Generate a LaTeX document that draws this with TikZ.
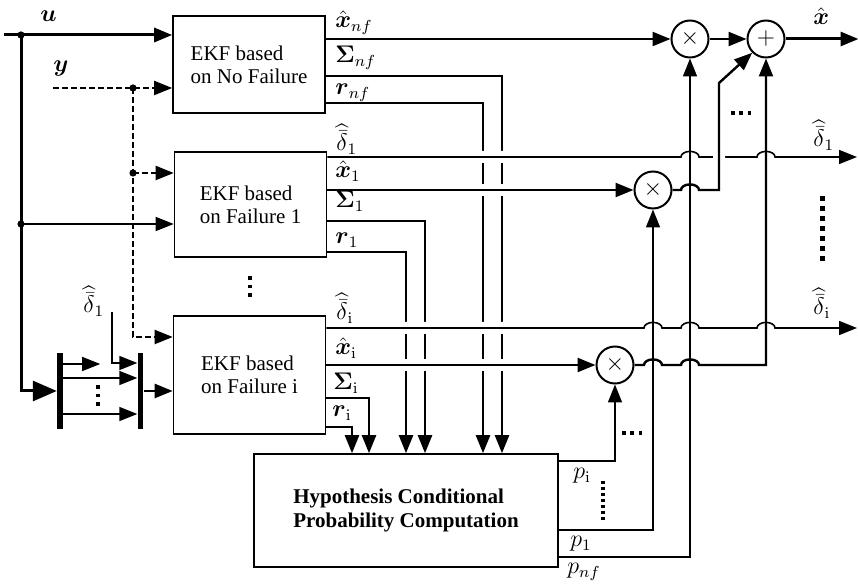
\documentclass[tikz,border=0pt]{standalone}
\usepackage{amsmath, amssymb}
\usepackage[no-math]{fontspec}
\setmainfont{Liberation Serif}
\usepackage{tikz}
\usetikzlibrary{
  arrows.meta,
  positioning,
  calc,
}
\newcommand{\deltahat}{\widehat{\bar{\delta}}}
\newcommand{\hopup}{arc[start angle=180, end angle=0, x radius=4.5pt, y radius=2.8pt]}

\begin{document}
\begin{tikzpicture}[x=0.5pt, y=-0.5pt,
  >={Triangle[length=9pt,width=7pt]},
  box/.style={draw, line width=0.8pt, minimum width=76pt, align=left,
              font=\fontsize{10.5}{11.5}\selectfont},
  mult/.style={draw, circle, line width=1pt, minimum size=18.5pt,
               inner sep=0pt, font=\large},
  bar/.style={fill, minimum width=2.8pt, minimum height=38pt, inner sep=0pt},
  thin/.style={line width=0.8pt},
  sig/.style={line width=1.2pt},
  main/.style={line width=1.5pt},
  dsh/.style={line width=1pt, dash pattern=on 3pt off 1.5pt},
  gap/.style={preaction={draw=white, line width=6pt, -,
              shorten <=12pt, shorten >=12pt}},
  lbl/.style={anchor=base west, inner sep=0pt, font=\large},
  dotrow/.style={line width=1.8pt, dash pattern=on 1.8pt off 2.4pt},
]
  \useasboundingbox (0,0) rectangle (858,587);

  % filters and probability block
  \node[box, minimum height=48.5pt] (nf) at (249,64.5) {EKF based\\on No Failure};
  \node[box, minimum height=52.5pt] (fone) at (250.5,204.5) {EKF based\\on Failure 1};
  \node[box, minimum height=59pt] (fi) at (249.5,375) {EKF based\\on Failure i};
  \node[box, minimum width=152pt, minimum height=56.5pt,
        font=\bfseries\fontsize{10.5}{12}\selectfont] (hcp) at (406,510.5)
    {Hypothesis Conditional\\Probability Computation};

  % multipliers and sum
  \node[mult] (mnf) at (690,39) {$\times$};
  \node[mult] (mone) at (653,190) {$\times$};
  \node[mult] (mi) at (615,365) {$\times$};
  \node[mult] (sum) at (766,39) {$+$};

  % switch bars
  \node[bar] (bara) at (60,391) {};
  \node[bar] (barb) at (140.5,391) {};

  % inputs
  \coordinate (uin) at (4,35);
  \coordinate (du) at (21,35);
  \coordinate (dua) at (21,224);
  \coordinate (yin) at (53,88);
  \coordinate (dy) at (133,88);
  \coordinate (dya) at (133,173);
  \coordinate (dlin) at (112,312);

  \draw[main,->] (uin) -- (uin -| nf.west);
  \draw[main,-{Triangle[length=12pt,width=10pt]}] (du) |- (bara.west);
  \draw[thin,->] (dua) -- (dua -| fone.west);
  \draw[dsh,->] (yin) -- (yin -| nf.west);
  \draw[dsh,->] (dya) -- (dya -| fone.west);
  \draw[dsh,->] (dy) |- (fi.west |- 0,337);
  \foreach \d in {du, dua, dy, dya}
    \fill (\d) circle[radius=1.8pt];

  \draw[thin,->] (bara.east |- 0,364) -- ++(37,0);
  \draw[thin,->] (bara.east |- 0,378) -- (barb.west |- 0,378);
  \draw[thin,->] (bara.east |- 0,414) -- (barb.west |- 0,414);
  \draw[thin,->] (dlin) |- (barb.west |- 0,363);
  \draw[sig,->] (barb.east) -- (barb.east -| fi.west);

  % covariances and residuals to the probability block
  \draw[sig,->] (nf.east |- 0,76) -| (502,0 |- hcp.north);
  \draw[sig,->] (nf.east |- 0,103) -| (483,0 |- hcp.north);
  \draw[sig,->] (fone.east |- 0,221) -| (425,0 |- hcp.north);
  \draw[sig,->] (fone.east |- 0,252) -| (406,0 |- hcp.north);
  \draw[sig,->] (fi.east |- 0,398) -| (369,0 |- hcp.north);
  \draw[sig,->] (fi.east |- 0,427) -| (352,0 |- hcp.north);

  % estimates crossing over
  \draw[thin,gap,->] (fone.east |- 0,157) -- (681,157) \hopup -- (757,157) \hopup -- (857,157);
  \draw[sig,gap,->] (fone.east |- mone.west) -- (mone.west);
  \draw[thin,gap,->] (fi.east |- 0,328) -- (644,328) \hopup -- (681,328) \hopup
    -- (757,328) \hopup -- (857,328);
  \draw[sig,gap,->] (fi.east |- mi.west) -- (mi.west);
  \draw[sig,gap,->] (mone.east) -- (681,190) \hopup -- (719,190) -- (719,83) -- (sum.225);

  \draw[sig,->] (mi.east) -- (644,365) \hopup -- (681,365) \hopup
    -- (sum.south |- mi.east) -- (sum.south);
  \draw[thin,->] (hcp.east |- 0,461) -| (mi.south);
  \draw[thin,->] (hcp.east |- 0,530) -| (mone.south);
  \draw[thin,->] (hcp.east |- 0,557) -| (mnf.south);
  \draw[sig,->] (mnf.west -| nf.east) -- (mnf.west);
  \draw[sig,->] (mnf.east) -- (sum.west);
  \draw[main,->] (sum.east) -- ++(73,0);

  % labels
  \node[lbl] (l-u) at (40,22) {$\boldsymbol{u}$};
  \node[lbl] (l-y) at (53,72) {$\boldsymbol{y}$};
  \node[lbl] (l-dsw) at (83,313) {$\deltahat_1$};
  \node[lbl] (l-xnf) at (335,28) {$\hat{\boldsymbol{x}}_{nf}$};
  \node[lbl] (l-snf) at (335,63) {$\boldsymbol{\Sigma}_{nf}$};
  \node[lbl] (l-rnf) at (335,95) {$\boldsymbol{r}_{nf}$};
  \node[lbl] (l-d1) at (336,151) {$\deltahat_1$};
  \node[lbl] (l-x1) at (335,178) {$\hat{\boldsymbol{x}}_1$};
  \node[lbl] (l-s1) at (335,208) {$\boldsymbol{\Sigma}_1$};
  \node[lbl] (l-r1) at (335,244) {$\boldsymbol{r}_1$};
  \node[lbl] (l-di) at (336,320) {$\deltahat_{\mathrm{i}}$};
  \node[lbl] (l-xi) at (335,355) {$\hat{\boldsymbol{x}}_{\mathrm{i}}$};
  \node[lbl] (l-si) at (333,390) {$\boldsymbol{\Sigma}_{\mathrm{i}}$};
  \node[lbl] (l-ri) at (332,417) {$\boldsymbol{r}_{\mathrm{i}}$};
  \node[lbl] (l-xout) at (813,25) {$\hat{\boldsymbol{x}}$};
  \node[lbl] (l-d1out) at (813,147) {$\deltahat_1$};
  \node[lbl] (l-diout) at (813,315) {$\deltahat_{\mathrm{i}}$};
  \node[lbl] (l-pi) at (573,479) {$p_{\mathrm{i}}$};
  \node[lbl] (l-p1) at (570,547) {$p_1$};
  \node[lbl] (l-pnf) at (567,574) {$p_{nf}$};

  % ellipsis dots
  \draw[dotrow] (250,276.5) -- (250,296.9);
  \draw[dotrow] (98,385.2) -- (98,405.6);
  \draw[dotrow] (731,113) -- (751.4,113);
  \draw[dotrow] (622,433) -- (642.4,433);
  \draw[line width=1.7pt, dash pattern=on 1.7pt off 1.3pt] (603,481) -- (603,520.4);
  \draw[line width=2.5pt, dash pattern=on 2.5pt off 2.5pt] (822,196) -- (822,261);
\end{tikzpicture}
\end{document}
